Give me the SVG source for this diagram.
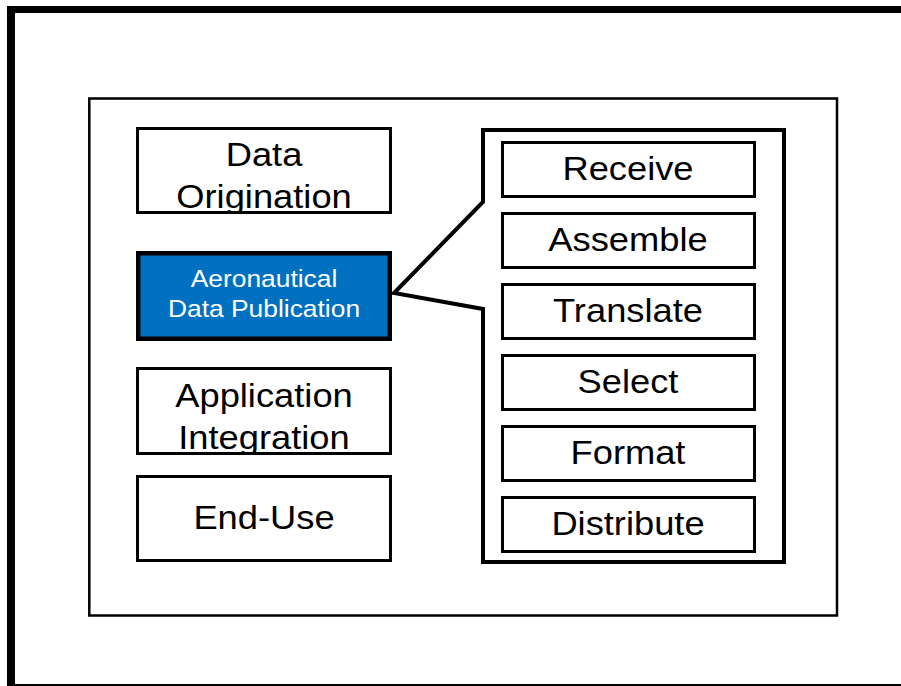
<svg xmlns="http://www.w3.org/2000/svg" width="901" height="686" viewBox="0 0 901 686">
  <style>
    .box { fill: #ffffff; stroke: #000000; stroke-width: 3; }
    .big { font-family: "Liberation Sans", Arial, sans-serif; font-size: 33px; fill: #000000; text-anchor: middle; }
    .small { font-family: "Liberation Sans", Arial, sans-serif; font-size: 24px; fill: #ffffff; text-anchor: middle; }
  </style>
  <defs>
    <clipPath id="clipOrig"><rect x="139" y="130" width="250" height="82"/></clipPath>
    <clipPath id="clipApp"><rect x="139" y="370" width="250" height="83"/></clipPath>
  </defs>
  <rect x="0" y="0" width="901" height="686" fill="#ffffff"/>
  <g id="frame">
    <rect x="7" y="6" width="894" height="7" fill="#000000"/>
    <rect x="7" y="6" width="8" height="680" fill="#000000"/>
    <rect x="7" y="684" width="894" height="2" fill="#000000"/>
    <rect x="89.3" y="98.5" width="747.7" height="517" fill="none" stroke="#000000" stroke-width="2.5"/>
  </g>
  <g id="connectors">
    <polygon points="483,130 784,130 784,562 483,562 483,309 394,293 483,202" fill="#ffffff" stroke="#000000" stroke-width="4" stroke-linejoin="miter"/>
  </g>
  <g id="data-origination">
    <rect class="box" x="137.5" y="128.5" width="253" height="84"/>
    <g clip-path="url(#clipOrig)">
      <text class="big" transform="matrix(1.1 0 0 1 264 0)" x="0" y="166">Data</text>
      <text class="big" transform="matrix(1.1 0 0 1 264 0)" x="0" y="208">Origination</text>
    </g>
  </g>
  <g id="aeronautical-data-publication">
    <rect x="138.25" y="253.25" width="251.5" height="85.5" fill="#0070C0" stroke="#000000" stroke-width="4.5"/>
    <text class="small" transform="matrix(1.1 0 0 1 264 0)" x="0" y="287">Aeronautical</text>
    <text class="small" transform="matrix(1.1 0 0 1 264 0)" x="0" y="317">Data Publication</text>
  </g>
  <g id="application-integration">
    <rect class="box" x="137.5" y="368.5" width="253" height="85"/>
    <g clip-path="url(#clipApp)">
      <text class="big" transform="matrix(1.1 0 0 1 264 0)" x="0" y="407">Application</text>
      <text class="big" transform="matrix(1.1 0 0 1 264 0)" x="0" y="449">Integration</text>
    </g>
  </g>
  <g id="end-use">
    <rect class="box" x="137.5" y="476.5" width="253" height="84"/>
    <text class="big" transform="matrix(1.1 0 0 1 264 0)" x="0" y="529">End-Use</text>
  </g>
  <g id="receive">
    <rect class="box" x="502.5" y="142.5" width="252" height="54"/>
    <text class="big" transform="matrix(1.1 0 0 1 628 0)" x="0" y="180">Receive</text>
  </g>
  <g id="assemble">
    <rect class="box" x="502.5" y="213.5" width="252" height="54"/>
    <text class="big" transform="matrix(1.1 0 0 1 628 0)" x="0" y="251">Assemble</text>
  </g>
  <g id="translate">
    <rect class="box" x="502.5" y="284.5" width="252" height="54"/>
    <text class="big" transform="matrix(1.1 0 0 1 628 0)" x="0" y="322">Translate</text>
  </g>
  <g id="select">
    <rect class="box" x="502.5" y="355.5" width="252" height="54"/>
    <text class="big" transform="matrix(1.1 0 0 1 628 0)" x="0" y="393">Select</text>
  </g>
  <g id="format">
    <rect class="box" x="502.5" y="426.5" width="252" height="54"/>
    <text class="big" transform="matrix(1.1 0 0 1 628 0)" x="0" y="464">Format</text>
  </g>
  <g id="distribute">
    <rect class="box" x="502.5" y="497.5" width="252" height="54"/>
    <text class="big" transform="matrix(1.1 0 0 1 628 0)" x="0" y="535">Distribute</text>
  </g>
</svg>
